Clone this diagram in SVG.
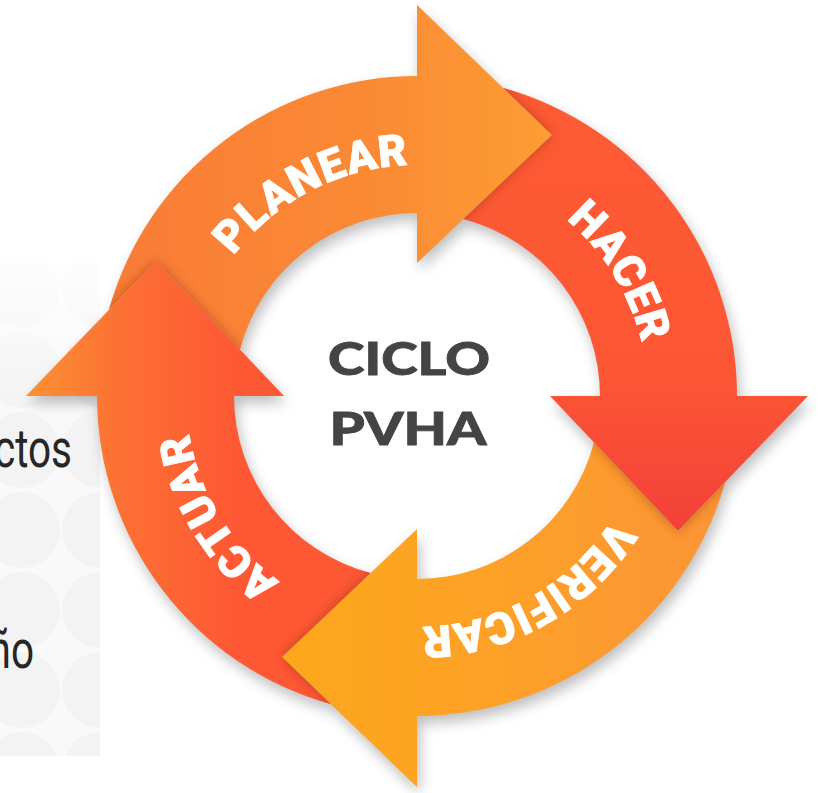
<svg xmlns="http://www.w3.org/2000/svg" xmlns:xlink="http://www.w3.org/1999/xlink" width="818" height="793" viewBox="0 0 818 793">
  <style>
    .lbl { font-family: Roboto, "Liberation Sans", sans-serif; font-weight: 900; font-size: 44px; fill: #FFFFFF; stroke: #FFFFFF; stroke-width: 0.8px; letter-spacing: 1px; }
    .center { font-family: Lato, "Noto Sans", "Liberation Sans", sans-serif; font-weight: 900; font-size: 45px; fill: #444446; stroke: #444446; stroke-width: 0.8px; }
    .side { font-family: Roboto, "Liberation Sans", sans-serif; font-size: 54px; fill: #262626; }
  </style>
  <defs>
    <path id="arrowShape" d="M -308.2,-85.9 A 320 320 0 0 1 0,-320 L 0,-391 L 135,-261 L 0,-133 L 0,-183 A 183 183 0 0 0 -177,-46.4 L -261,-135 Z"/>
    <path id="prevHead" d="M -391,0 L -261,-135 L -133,0 Z"/>
    <clipPath id="clipArrow"><use xlink:href="#arrowShape"/></clipPath>
    <clipPath id="clipPanel"><rect x="0" y="262" width="100" height="494"/></clipPath>
    <filter id="blurShadow" x="-20%" y="-20%" width="140%" height="140%"><feGaussianBlur stdDeviation="7"/></filter>
    <filter id="blurEdge" x="-30%" y="-30%" width="160%" height="160%"><feGaussianBlur stdDeviation="6"/></filter>
    <linearGradient id="gPlan" gradientUnits="userSpaceOnUse" x1="-320" y1="0" x2="135" y2="0">
      <stop offset="0" stop-color="#F97B36"/>
      <stop offset="0.6" stop-color="#FA8A35"/>
      <stop offset="1" stop-color="#FD9D32"/>
    </linearGradient>
    <linearGradient id="gHac" gradientUnits="userSpaceOnUse" x1="-320" y1="0" x2="135" y2="0">
      <stop offset="0" stop-color="#FE5B34"/>
      <stop offset="0.65" stop-color="#FD5634"/>
      <stop offset="1" stop-color="#F3403A"/>
    </linearGradient>
    <linearGradient id="gVer" gradientUnits="userSpaceOnUse" x1="-330" y1="0" x2="135" y2="0">
      <stop offset="0" stop-color="#FC9338"/>
      <stop offset="0.55" stop-color="#FDA127"/>
      <stop offset="1" stop-color="#FDA71B"/>
    </linearGradient>
    <linearGradient id="gAct" gradientUnits="userSpaceOnUse" x1="0" y1="-392" x2="0" y2="-180">
      <stop offset="0" stop-color="#FB9233"/>
      <stop offset="0.45" stop-color="#FC7034"/>
      <stop offset="1" stop-color="#FE5834"/>
    </linearGradient>
    <linearGradient id="fadeTop" x1="0" y1="0" x2="0" y2="1">
      <stop offset="0" stop-color="#FFFFFF" stop-opacity="0.85"/>
      <stop offset="1" stop-color="#FFFFFF" stop-opacity="0"/>
    </linearGradient>
    <path id="labelPath" d="M186,396 A231,231 0 1 1 648,396 A231,231 0 1 1 186,396" fill="none"/>
  </defs>

  <rect x="0" y="0" width="818" height="793" fill="#FFFFFF"/>

  <!-- left background panel -->
  <g id="side-panel">
    <rect x="0" y="262" width="100" height="494" fill="#F9F9F9"/>
    <g fill="#F3F3F3" clip-path="url(#clipPanel)">
      <circle cx="22" cy="290" r="38"/><circle cx="100" cy="290" r="38"/>
      <circle cx="22" cy="370" r="38"/><circle cx="100" cy="370" r="38"/>
      <circle cx="22" cy="450" r="38"/><circle cx="100" cy="450" r="38"/>
      <circle cx="22" cy="530" r="38"/><circle cx="100" cy="530" r="38"/>
      <circle cx="22" cy="610" r="38"/><circle cx="100" cy="610" r="38"/>
      <circle cx="22" cy="690" r="38"/><circle cx="100" cy="690" r="38"/>
      <circle cx="22" cy="770" r="38"/><circle cx="100" cy="770" r="38"/>
    </g>
    <rect x="0" y="262" width="100" height="150" fill="url(#fadeTop)"/>
    <text class="side" text-anchor="end" transform="translate(72 467) scale(0.75 1)">ctos</text>
    <text class="side" text-anchor="end" transform="translate(34 668) scale(0.75 1)">ño</text>
  </g>

  <!-- outer drop shadows -->
  <g id="shadows" fill="#000000" opacity="0.26" filter="url(#blurShadow)">
    <g transform="translate(420 403)">
      <use xlink:href="#arrowShape"/>
      <use xlink:href="#arrowShape" transform="rotate(90)"/>
      <use xlink:href="#arrowShape" transform="rotate(180)"/>
      <use xlink:href="#arrowShape" transform="rotate(270)"/>
    </g>
  </g>

  <g id="connectors"/>

  <g id="planear">
    <g transform="translate(417 396)">
      <use xlink:href="#arrowShape" fill="url(#gPlan)"/>
      <g clip-path="url(#clipArrow)"><use xlink:href="#prevHead" fill="#7a2a00" opacity="0.45" filter="url(#blurEdge)"/></g>
    </g>
    <text class="lbl"><textPath xlink:href="#labelPath" startOffset="252.8" text-anchor="middle">PLANEAR</textPath></text>
  </g>

  <g id="hacer">
    <g transform="translate(417 396) rotate(90)">
      <use xlink:href="#arrowShape" fill="url(#gHac)"/>
      <g clip-path="url(#clipArrow)"><use xlink:href="#prevHead" fill="#7a2a00" opacity="0.45" filter="url(#blurEdge)"/></g>
    </g>
    <text class="lbl"><textPath xlink:href="#labelPath" startOffset="598.7" text-anchor="middle">HACER</textPath></text>
  </g>

  <g id="verificar">
    <g transform="translate(417 396) rotate(180)">
      <use xlink:href="#arrowShape" fill="url(#gVer)"/>
      <g clip-path="url(#clipArrow)"><use xlink:href="#prevHead" fill="#7a2a00" opacity="0.45" filter="url(#blurEdge)"/></g>
    </g>
    <text class="lbl"><textPath xlink:href="#labelPath" startOffset="969.6" text-anchor="middle">VERIFICAR</textPath></text>
  </g>

  <g id="actuar">
    <g transform="translate(417 396) rotate(270)">
      <use xlink:href="#arrowShape" fill="url(#gAct)"/>
      <g clip-path="url(#clipArrow)"><use xlink:href="#prevHead" fill="#7a2a00" opacity="0.45" filter="url(#blurEdge)"/></g>
    </g>
    <text class="lbl"><textPath xlink:href="#labelPath" startOffset="1324.8" text-anchor="middle">ACTUAR</textPath></text>
  </g>

  <g id="ciclo">
    <text class="center" x="409" y="375" text-anchor="middle" textLength="162" lengthAdjust="spacingAndGlyphs">CICLO</text>
    <text class="center" x="408" y="445" text-anchor="middle" textLength="157" lengthAdjust="spacingAndGlyphs">PVHA</text>
  </g>
</svg>
